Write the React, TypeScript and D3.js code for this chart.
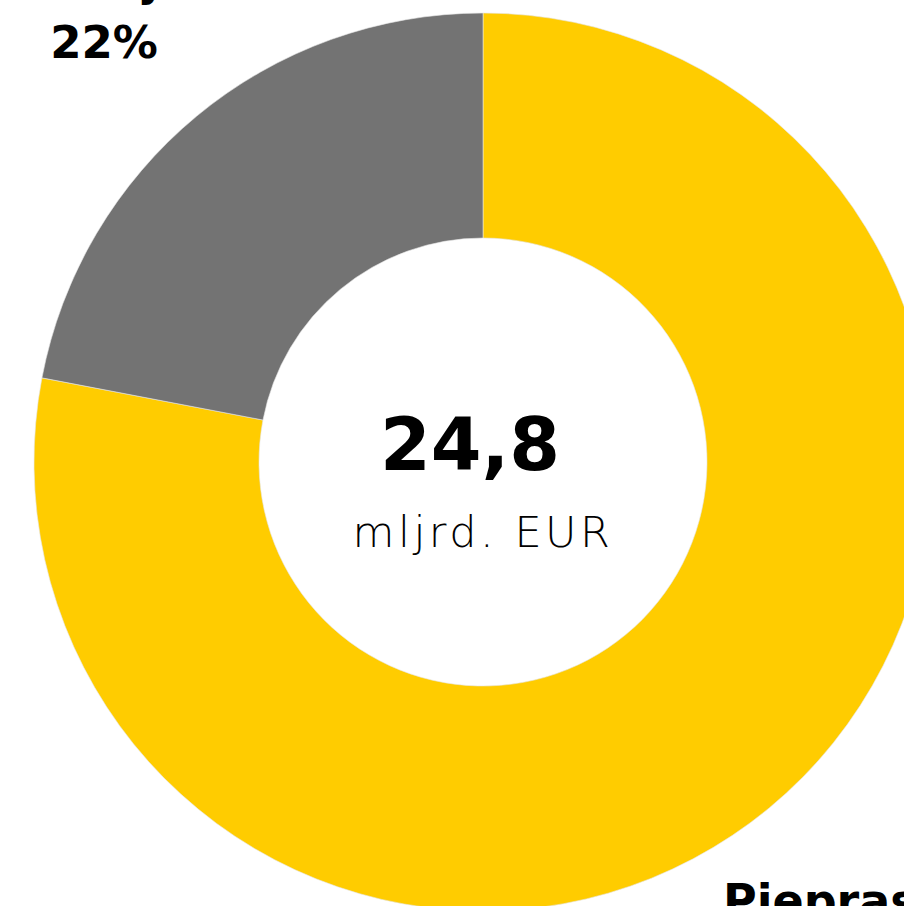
import React from "react";
import * as d3 from "d3";

const categories = ["Pieprasījums", "Piedāvājums"];
const shares = [78, 22];
const labels = ["78%", "22%"];
const colors = ["#FFCC00", "#737373"];
const centerValue = "24,8";
const centerUnit = "mljrd. EUR";

export default function App() {
  const W = 904, H = 906;
  const cx = 483, cy = 462;
  const outerR = 449, innerR = 224;
  const pie = d3.pie<number>().sort(null).value((d) => d)(shares);
  const arc = d3.arc<d3.PieArcDatum<number>>().innerRadius(innerR).outerRadius(outerR);
  return (
    <svg width={W} height={H} style={{ position: "absolute", left: 0, top: 0, background: "#fff" }}>
      <g transform={`translate(${cx},${cy})`}>
        {pie.map((p, i) => (
          <path key={i} d={arc(p) || ""} fill={colors[i]} stroke="#e6e6e6" strokeWidth={0.6} />
        ))}
        <text x={-13} y={8} textAnchor="middle" fontFamily="DejaVu Sans" fontWeight="bold" fontSize={73} fill="#000">
          {centerValue}
        </text>
        <text x={0} y={85} textAnchor="middle" fontFamily="DejaVu Sans" fontWeight={200} fontSize={43} letterSpacing={3.5} fill="#000">
          {centerUnit}
        </text>
      </g>
      {/* top-left label for gray slice */}
      <text x={104} y={-4} textAnchor="middle" fontFamily="DejaVu Sans" fontWeight="bold" fontSize={44} fill="#000">
        {categories[1]}
      </text>
      <text x={104} y={58} textAnchor="middle" fontFamily="DejaVu Sans" fontWeight="bold" fontSize={45} fill="#000">
        {labels[1]}
      </text>
      {/* bottom-right label for yellow slice */}
      <text x={723} y={917} textAnchor="start" fontFamily="DejaVu Sans" fontWeight="bold" fontSize={46} fill="#000">
        {categories[0]}
      </text>
      <text x={723} y={977} textAnchor="start" fontFamily="DejaVu Sans" fontWeight="bold" fontSize={46} fill="#000">
        {labels[0]}
      </text>
    </svg>
  );
}
